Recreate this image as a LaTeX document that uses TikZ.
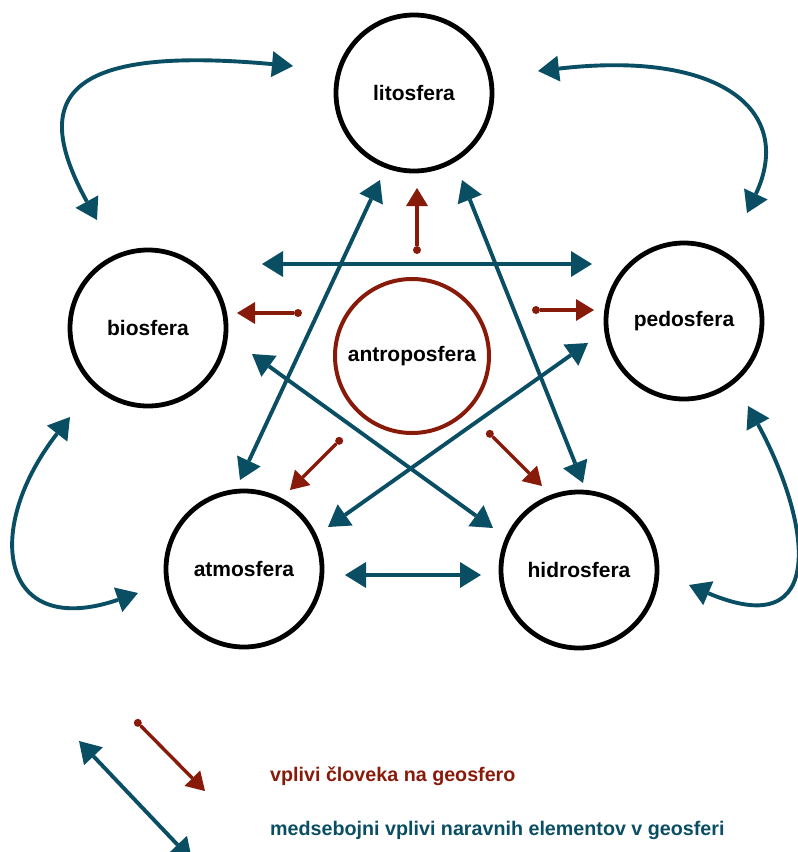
\documentclass[tikz,border=0pt]{standalone}
\usepackage{fontspec}
\setmainfont{Liberation Sans}
\usetikzlibrary{arrows.meta}
\definecolor{tealc}{RGB}{10,78,100}
\definecolor{redc}{RGB}{136,26,10}
\begin{document}
\begin{tikzpicture}[x=1pt,y=-1pt,
  sphere/.style={circle, draw=black, line width=4.8pt, minimum size=156pt, inner sep=0pt,
    font=\fontsize{21}{25}\selectfont\bfseries},
  humansphere/.style={sphere, draw=redc, line width=4pt, minimum size=154pt},
  mutual/.style={draw=tealc, line width=3.9pt,
    {Triangle[length=21pt,width=26pt,line width=0pt]}-{Triangle[length=21pt,width=26pt,line width=0pt]}},
  impact/.style={draw=redc, line width=3.4pt,
    {Circle[length=8pt,line width=0pt]}-{Triangle[length=18pt,width=22pt,line width=0pt]}},
  legendtext/.style={anchor=west, inner sep=0pt, font=\fontsize{19.7}{23}\selectfont\bfseries}
]
\useasboundingbox (0,0) rectangle (798,852);

% spheres
\node[sphere] (lito) at (414,93) {litosfera};
\node[sphere] (bio) at (148,328) {biosfera};
\node[sphere] (pedo) at (684,321) {pedosfera};
\node[sphere] (atmo) at (244,569) {atmosfera};
\node[sphere] (hidro) at (579,570) {hidrosfera};
\node[humansphere] (antro) at (412,356) {antroposfera};

% end points of the connectors
\coordinate (lbT) at (293,66);  \coordinate (lbB) at (97,220);
\coordinate (lpT) at (538,71);  \coordinate (lpP) at (747,213);
\coordinate (baB) at (70,417);  \coordinate (baA) at (138,593);
\coordinate (phP) at (748,406); \coordinate (phH) at (689,585);
\coordinate (bpB) at (262,264); \coordinate (bpP) at (592,264);
\coordinate (ahA) at (345,575); \coordinate (ahH) at (481,575);
\coordinate (laL) at (380,180); \coordinate (laA) at (240,480);
\coordinate (lhL) at (462,180); \coordinate (lhH) at (583,483);
\coordinate (bhB) at (252,354); \coordinate (bhH) at (493,528);
\coordinate (paP) at (588,343); \coordinate (paA) at (328,527);

\coordinate (r1s) at (417,254); \coordinate (r1e) at (417,188);
\coordinate (r2s) at (302,313); \coordinate (r2e) at (237,313);
\coordinate (r3s) at (532,310); \coordinate (r3e) at (594,310);
\coordinate (r4s) at (342,438); \coordinate (r4e) at (290,490);
\coordinate (r5s) at (487,431); \coordinate (r5e) at (542,486);

% outer curved connectors
\draw[mutual] (lbB) .. controls (30,98) and (62,45) .. (lbT);
\draw[mutual] (lpT) .. controls (720,50) and (795,110) .. (lpP);
\draw[mutual] (baB) .. controls (-18,530) and (0,640) .. (baA);
\draw[mutual] (phP) .. controls (810,520) and (830,645) .. (phH);

% straight mutual connectors
\draw[mutual] (bpB) -- (bpP);
\draw[mutual] (ahA) -- (ahH);
\draw[mutual] (laL) -- (laA);
\draw[mutual] (lhL) -- (lhH);
\draw[mutual] (bhB) -- (bhH);
\draw[mutual] (paP) -- (paA);

% human impacts
\draw[impact] (r1s) -- (r1e);
\draw[impact] (r2s) -- (r2e);
\draw[impact] (r3s) -- (r3e);
\draw[impact] (r4s) -- (r4e);
\draw[impact] (r5s) -- (r5e);

% legend
\coordinate (legRs) at (135,720); \coordinate (legRe) at (205,791);
\coordinate (legTs) at (79,741);  \coordinate (legTe) at (192,860);
\draw[impact] (legRs) -- (legRe);
\draw[mutual] (legTs) -- (legTe);
\node[legendtext, text=redc] (legR) at (270,776) {vplivi človeka na geosfero};
\node[legendtext, text=tealc] (legT) at (270,830) {medsebojni vplivi naravnih elementov v geosferi};
\end{tikzpicture}
\end{document}
